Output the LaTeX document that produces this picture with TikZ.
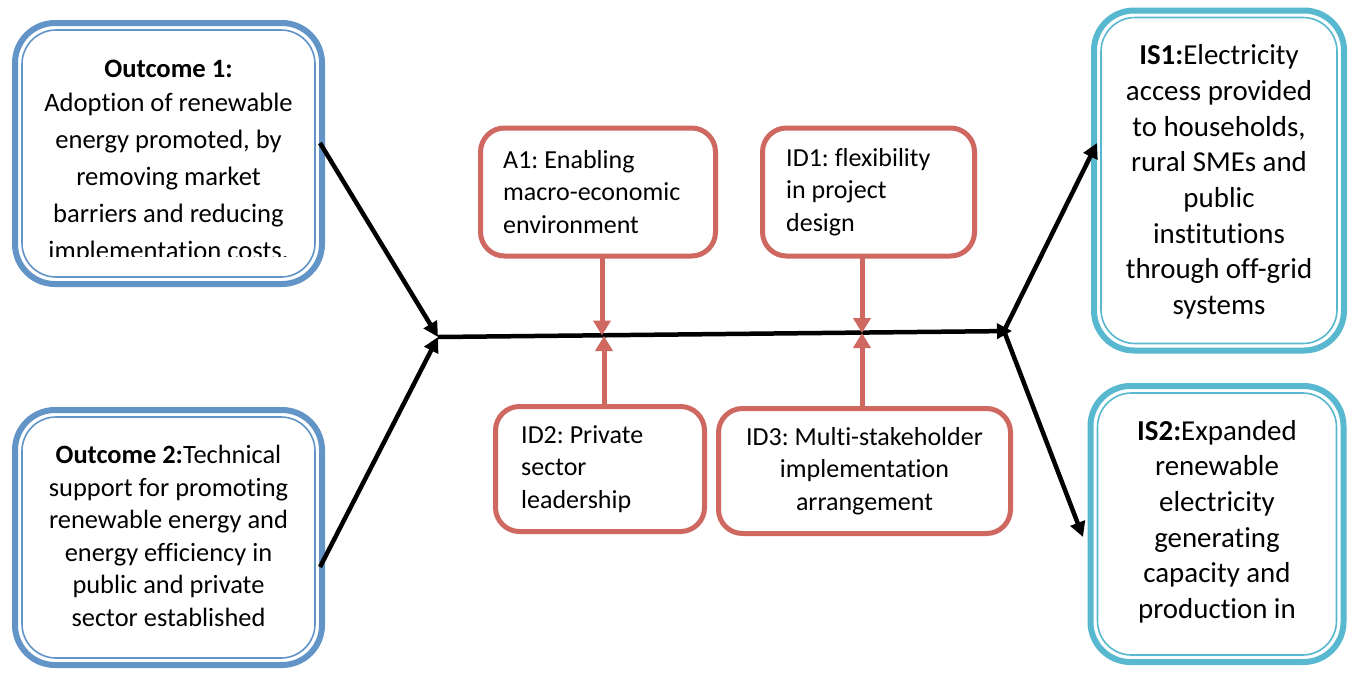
\documentclass[tikz,border=0pt]{standalone}
\usepackage{fontspec}
\setmainfont{Carlito}[Ligatures={NoCommon}]
\usetikzlibrary{arrows.meta,calc}
\definecolor{bl}{RGB}{98,148,199}
\definecolor{cy}{RGB}{88,184,207}
\definecolor{rd}{RGB}{208,104,98}
\tikzset{
  outerbox/.style={draw=#1, line width=6pt, rounded corners=40pt, fill=white, inner sep=0pt, outer sep=0pt},
  innerline/.style={draw=#1, line width=1.6pt, rounded corners=34pt},
  redbox/.style={draw=rd, line width=5pt, rounded corners=24pt, fill=white, inner sep=0pt, outer sep=0pt},
  boxtext/.style 2 args={align=center, inner sep=0pt, font=\fontsize{#1}{#2}\selectfont},
  smalltext/.style={inner sep=0pt, font=\fontsize{26}{32.5}\selectfont},
  blackarrow/.style={line width=4.5pt, -{Triangle[length=15pt,width=15pt]}},
  redarrow/.style={draw=rd, line width=5pt, -{Triangle[length=15pt,width=17pt]}},
}
\frenchspacing
\begin{document}
\frenchspacing
\begin{tikzpicture}[x=1pt,y=-1pt]
\useasboundingbox[fill=white] (0,0) rectangle (1351,673);

% left outcome boxes
\node[outerbox=bl, minimum width=307pt, minimum height=261pt] (o1) at (168.5,153.5) {};
\draw[innerline=bl] ($(o1.north west)+(7,7)$) rectangle ($(o1.south east)+(-7,-7)$);
\begin{scope}
\clip (20,28) rectangle (318,256);
\node[boxtext={26.6}{37}] (o1t) at (168.5,162) {\textbf{Outcome 1:}\\[-3pt]Adoption of renewable\\energy promoted, by\\removing market\\barriers and reducing\\implementation costs.};
\end{scope}

\node[outerbox=bl, minimum width=307pt, minimum height=255pt] (o2) at (168.5,537.5) {};
\draw[innerline=bl] ($(o2.north west)+(7,7)$) rectangle ($(o2.south east)+(-7,-7)$);
\node[boxtext={26.4}{32.6}] (o2t) at (168.5,536) {\textbf{Outcome 2:}Technical\\support for promoting\\renewable energy and\\energy efficiency in\\public and private\\sector established};

% right boxes
\node[outerbox=cy, minimum width=250pt, minimum height=340pt] (is1) at (1219,180.5) {};
\draw[innerline=cy] ($(is1.north west)+(7,7)$) rectangle ($(is1.south east)+(-7,-7)$);
\node[boxtext={28.9}{35.7}] (is1t) at (1219,182) {\textbf{IS1:}Electricity\\access provided\\to households,\\rural SMEs and\\public\\institutions\\through off-grid\\systems};

\node[outerbox=cy, minimum width=253pt, minimum height=276pt] (is2) at (1217,524) {};
\draw[innerline=cy] ($(is2.north west)+(7,7)$) rectangle ($(is2.south east)+(-7,-7)$);
\node[boxtext={28.9}{35.6}] (is2t) at (1217,521.5) {\textbf{IS2:}Expanded\\renewable\\electricity\\generating\\capacity and\\production in};

% red boxes
\node[redbox, minimum width=235pt, minimum height=128pt] (a1) at (598,192) {};
\node[smalltext, anchor=west, align=left] (a1t) at (503,192) {A1: Enabling\\macro-economic\\environment};
\node[redbox, minimum width=212pt, minimum height=128pt] (id1) at (868.5,192) {};
\node[smalltext, anchor=west, align=left] (id1t) at (786,192) {ID1: flexibility\\in project\\design};
\node[redbox, minimum width=209pt, minimum height=125pt] (id2) at (600,469) {};
\node[smalltext, anchor=west, align=left] (id2t) at (521,469) {ID2: Private\\sector\\leadership};
\node[redbox, minimum width=292pt, minimum height=125pt] (id3) at (864.5,471) {};
\node[smalltext, align=center] (id3t) at (864.5,471) {ID3: Multi-stakeholder\\implementation\\arrangement};

% junctions and free ends
\coordinate (jl) at (438,337);
\coordinate (jr) at (1012,331);
\coordinate (jm) at (1004,331);
\coordinate (j1) at (602,335.5);
\coordinate (j1b) at (604,336);
\coordinate (j2) at (862,333);
\coordinate (s1) at (320,143);
\coordinate (s2) at (320,567);
\coordinate (e1) at (1097,143);
\coordinate (e2) at (1083,537);

\draw[blackarrow] (s1) -- (jl);
\draw[blackarrow] (s2) -- (jl);
\draw[blackarrow] (jl) -- (jr);
\draw[blackarrow] (jm) -- (e1);
\draw[blackarrow] (jm) -- (e2);

\draw[redarrow] (a1.south -| j1) -- (j1);
\draw[redarrow] (id1.south -| j2) -- (j2);
\draw[redarrow] (id2.north -| j1b) -- (j1b);
\draw[redarrow] (id3.north -| j2) -- (j2);
\end{tikzpicture}
\end{document}
